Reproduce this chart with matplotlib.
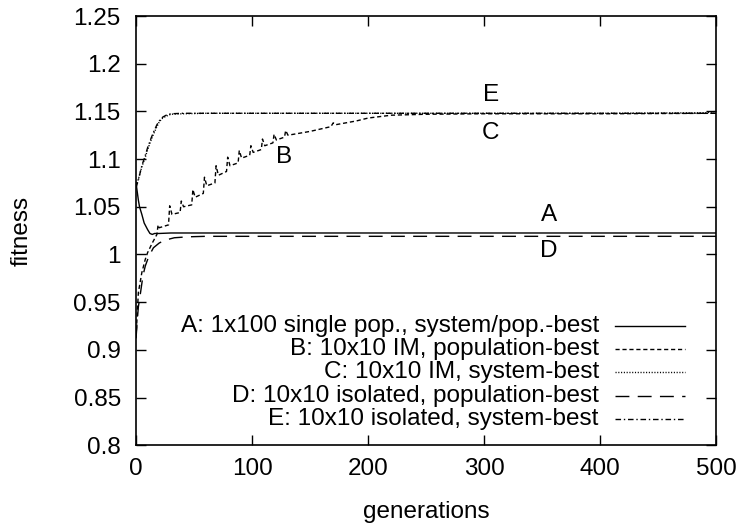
import matplotlib
matplotlib.use("Agg")
import matplotlib.pyplot as plt

# curve A: 1x100 single pop.
gens_A = [0, 1, 2, 3, 5, 7, 10, 12, 14, 16, 20, 30, 50, 100, 200, 300, 400, 500]
fit_A = [1.075, 1.066, 1.057, 1.050, 1.042, 1.033, 1.026, 1.022, 1.021, 1.022,
         1.022, 1.0225, 1.0225, 1.0225, 1.0225, 1.0225, 1.0225, 1.0225]

# curve B: 10x10 IM, population-best (saw-tooth at migrations)
gens_B = [0, 2, 5, 8, 10, 14, 18, 19, 20, 28, 29, 31, 38, 39, 41, 48, 49, 51,
          58, 59, 61, 68, 69, 71, 78, 79, 81, 88, 89, 91, 98, 99, 101, 108, 109, 111,
          118, 119, 121, 128, 129, 131, 150, 168, 170, 172, 190, 200, 220, 250,
          300, 400, 500]
fit_B = [0.913, 0.960, 0.981, 0.995, 1.002, 1.012, 1.021, 1.031, 1.028, 1.031, 1.051, 1.042,
         1.044, 1.056, 1.050, 1.052, 1.068, 1.060, 1.064, 1.081, 1.072, 1.075, 1.093, 1.083,
         1.087, 1.102, 1.093, 1.096, 1.109, 1.101, 1.104, 1.114, 1.107, 1.110, 1.121, 1.114,
         1.117, 1.126, 1.120, 1.123, 1.130, 1.125, 1.129, 1.134, 1.138, 1.136, 1.140,
         1.143, 1.146, 1.147, 1.1475, 1.1475, 1.148]

# curve C: 10x10 IM, system-best
gens_C = [0, 2, 5, 8, 10, 13, 15, 18, 20, 23, 26, 30, 40, 60, 100, 200, 300, 400, 490, 500]
fit_C = [1.072, 1.079, 1.092, 1.102, 1.110, 1.120, 1.126, 1.134, 1.139, 1.143, 1.145,
         1.147, 1.1475, 1.148, 1.148, 1.148, 1.148, 1.148, 1.1485, 1.150]

# curve D: 10x10 isolated, population-best
gens_D = [0, 1, 2, 4, 6, 8, 11, 15, 20, 25, 33, 45, 60, 100, 200, 300, 400, 500]
fit_D = [0.912, 0.930, 0.945, 0.961, 0.978, 0.988, 0.998, 1.007, 1.012, 1.015, 1.0175,
         1.0185, 1.019, 1.019, 1.019, 1.019, 1.019, 1.019]

# curve E: 10x10 isolated, system-best
gens_E = [0, 2, 5, 8, 10, 13, 15, 18, 20, 23, 26, 30, 40, 60, 100, 200, 300, 400, 500]
fit_E = [1.070, 1.078, 1.093, 1.104, 1.112, 1.122, 1.128, 1.136, 1.140, 1.144, 1.146,
         1.1475, 1.148, 1.148, 1.148, 1.148, 1.148, 1.148, 1.148]

labels = ["A: 1x100 single pop., system/pop.-best",
          "B: 10x10 IM, population-best",
          "C: 10x10 IM, system-best",
          "D: 10x10 isolated, population-best",
          "E: 10x10 isolated, system-best"]

y_ticks = [0.8, 0.85, 0.9, 0.95, 1.0, 1.05, 1.1, 1.15, 1.2, 1.25]
y_tick_labels = ["0.8", "0.85", "0.9", "0.95", "1", "1.05", "1.1", "1.15", "1.2", "1.25"]
x_ticks = [0, 100, 200, 300, 400, 500]

plt.rcParams["font.family"] = ["Liberation Sans", "DejaVu Sans"]
plt.rcParams["font.size"] = 17.5

fig = plt.figure(figsize=(7.45, 5.25), dpi=100)
ax = fig.add_axes([0.1826, 0.152, 0.7785, 0.8175])

styles = [
    dict(linestyle="-"),
    dict(linestyle=(0, (3, 2))),
    dict(linestyle=(0, (0.8, 1.2))),
    dict(linestyle=(0, (10, 6))),
    dict(linestyle=(0, (4, 2, 1, 2))),
]
series = [(gens_A, fit_A), (gens_B, fit_B), (gens_C, fit_C), (gens_D, fit_D), (gens_E, fit_E)]

for (g, f), st in zip(series, styles):
    ax.plot(g, f, color="black", linewidth=1.0, **st)

# gnuplot-like key: right aligned text, sample to the right
row_y = [0.277, 0.224, 0.170, 0.114, 0.061]
for lab, yy, st in zip(labels, row_y, styles):
    ax.text(0.798, yy, lab, ha="right", va="center", transform=ax.transAxes)
    ax.plot([0.826, 0.947], [yy, yy], transform=ax.transAxes, color="black",
            linewidth=1.0, **st)

# curve letters
ax.text(306, 1.167, "E", ha="center", va="center")
ax.text(306, 1.127, "C", ha="center", va="center")
ax.text(128, 1.102, "B", ha="center", va="center")
ax.text(356, 1.041, "A", ha="center", va="center")
ax.text(356, 1.004, "D", ha="center", va="center")

ax.set_xlim(0, 500)
ax.set_ylim(0.8, 1.25)
ax.set_xticks(x_ticks)
ax.set_yticks(y_ticks)
ax.set_yticklabels(y_tick_labels)
ax.tick_params(direction="in", length=7, width=1.0, top=True, right=True)
ax.tick_params(axis="y", pad=11)
ax.tick_params(axis="x", pad=9)
for sp in ax.spines.values():
    sp.set_linewidth(1.2)

ax.set_xlabel("generations", labelpad=15)
ax.set_ylabel("fitness", labelpad=29)

fig.savefig("out.png", dpi=100)
